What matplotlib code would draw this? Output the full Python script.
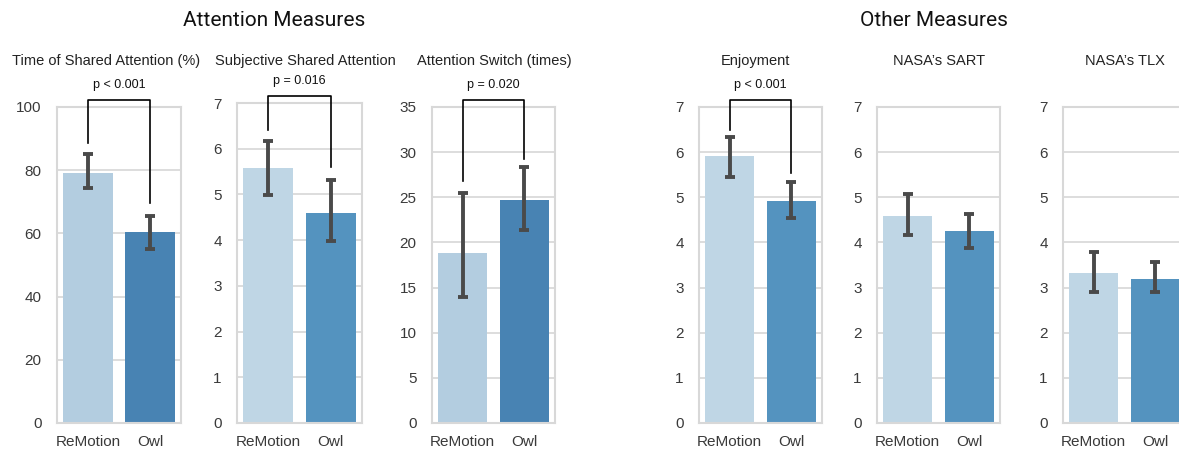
import numpy as np
import matplotlib
matplotlib.use("Agg")
from matplotlib import pyplot as plt

plt.rcParams['font.family'] = ['Liberation Sans', 'DejaVu Sans']

groups = ['ReMotion', 'Owl']
titles = ['Time of Shared Attention (%)', 'Subjective Shared Attention', 'Attention Switch (times)',
          'Enjoyment', "NASA’s SART", "NASA’s TLX"]
y_max = [100, 7, 35, 7, 7, 7]
y_step = [20, 1, 5, 1, 1, 1]

means = [[79.0, 60.6], [5.58, 4.59], [18.8, 24.7], [5.91, 4.91], [4.58, 4.25], [3.33, 3.18]]
err_low = [[74.3, 55.0], [4.99, 3.99], [14.0, 21.4], [5.46, 4.54], [4.16, 3.87], [2.90, 2.90]]
err_high = [[85.0, 65.6], [6.17, 5.32], [25.45, 28.4], [6.33, 5.34], [5.07, 4.64], [3.78, 3.57]]

# p text, left leg end, right leg end
sig = [('p < 0.001', 88.5, 69.6), ('p = 0.016', 6.4, 5.6), ('p = 0.020', 26.8, 29.2),
       ('p < 0.001', 6.5, 5.53), None, None]

light = ['#b3cde0', '#bfd6e5', '#b3cde0', '#bfd6e5', '#bfd6e5', '#bfd6e5']
dark = ['#4883b3', '#5493bf', '#4883b3', '#5493bf', '#5493bf', '#5493bf']

# axes boxes in pixels: left, right, top, bottom
W, H = 1179, 454
boxes = [(57, 181, 107, 423), (237, 362, 103, 423), (432, 555, 107, 423),
         (699, 822, 107, 423), (877, 1000, 107, 423), (1063, 1186, 107, 423)]
title_x = [106, 305, 494, 755, 939, 1125]

fig = plt.figure(figsize=(W / 100, H / 100), dpi=100)

for i in range(6):
    l, r, t, b = boxes[i]
    ax = fig.add_axes([l / W, (H - b) / H, (r - l) / W, (b - t) / H])
    x = np.arange(len(groups))
    m = np.array(means[i])
    lo = np.array(err_low[i])
    hi = np.array(err_high[i])
    ax.bar(x, m, width=0.8, color=[light[i], dark[i]], zorder=2)
    ax.errorbar(x, m, yerr=[m - lo, hi - m], fmt='none', ecolor='#4a4a4a',
                elinewidth=2.8, capsize=3.6, capthick=2.8, zorder=3)
    ax.set_xlim(-0.5, 1.5)
    ax.set_ylim(0, y_max[i])
    ax.set_yticks(np.arange(0, y_max[i] + y_step[i] / 2, y_step[i]))
    ax.set_xticks(x)
    ax.set_xticklabels(groups)
    ax.yaxis.grid(True, color='#dadada', lw=1.3, zorder=0)
    ax.set_axisbelow(True)
    for s in ax.spines.values():
        s.set_color('#d8d8d8')
        s.set_linewidth(1.5)
    ax.tick_params(axis='both', length=0, labelsize=11, labelcolor='#3a3a3a')
    ax.tick_params(axis='y', pad=11)
    ax.tick_params(axis='x', pad=9)

    fig.text(title_x[i] / W, (H - 61) / H, titles[i], ha='center', va='center',
             fontsize=10.5, color='#222222')

    if sig[i] is not None:
        txt, yl, yr = sig[i]
        top = y_max[i] * 1.022
        ax.plot([0, 0, 1, 1], [yl, top, top, yr], color='black', lw=1.2,
                clip_on=False, zorder=4)
        ax.text(0.5, y_max[i] * 1.05, txt, ha='center', va='bottom', fontsize=9,
                color='#111111', clip_on=False)

fig.text(274 / W, (H - 20) / H, 'Attention Measures', ha='center', va='center',
         fontsize=15, family=['Roboto', 'DejaVu Sans'], color='#111111')
fig.text(934 / W, (H - 20) / H, 'Other Measures', ha='center', va='center',
         fontsize=15, family=['Roboto', 'DejaVu Sans'], color='#111111')

fig.savefig('out.png', dpi=100)
